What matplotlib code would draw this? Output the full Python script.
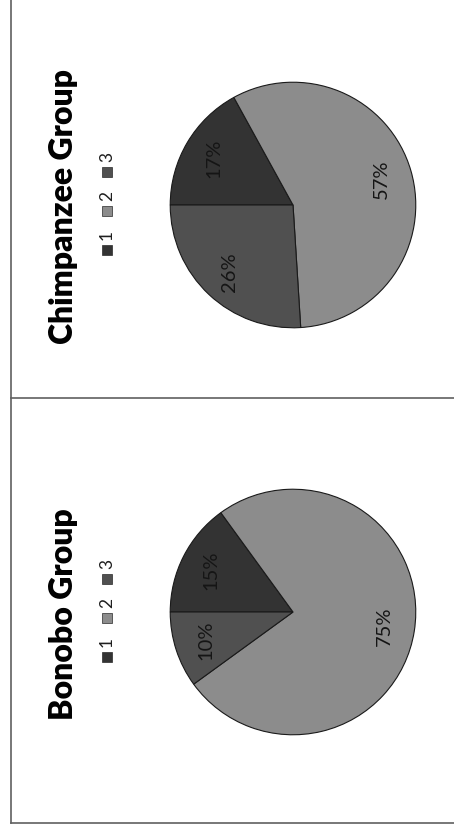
import matplotlib
matplotlib.use("Agg")
import matplotlib.pyplot as plt
from matplotlib.patches import Rectangle
from matplotlib.lines import Line2D

# Share of time per category for each group
categories = ["1", "2", "3"]
chimp_values = [17, 57, 26]
bonobo_values = [15, 75, 10]
titles = ["Chimpanzee Group", "Bonobo Group"]
slice_colors = ["#333333", "#8c8c8c", "#505050"]

W, H = 454, 832
DPI = 100
plt.rcParams["font.family"] = ["Lato", "DejaVu Sans"]

fig = plt.figure(figsize=(W / DPI, H / DPI), dpi=DPI)
fig.patch.set_facecolor("white")


def fx(x):
    return x / W


def fy(y):
    return 1 - y / H


# panel frame lines (page is turned a quarter turn, so charts read bottom-to-top)
frame_color = "#606060"
for (x0, y0, x1, y1) in [(11, 0, 11, 823), (11, 398, W, 398), (11, 823, W, 823)]:
    fig.add_artist(Line2D([fx(x0), fx(x1)], [fy(y0), fy(y1)], color=frame_color,
                          lw=1.2, transform=fig.transFigure))


def draw_panel(values, title, cy, r=124, cx=293):
    ax = fig.add_axes([fx(cx - r), fy(cy + r), 2 * r / W, 2 * r / H])
    ax.pie(values, colors=slice_colors, startangle=180, counterclock=False,
           autopct="%1.0f%%", pctdistance=0.75,
           wedgeprops=dict(edgecolor="#1a1a1a", linewidth=0.8),
           textprops=dict(rotation=90, fontsize=14.5, color="#151515",
                          ha="center", va="center"))
    ax.set_xlim(-1.01, 1.01)
    ax.set_ylim(-1.01, 1.01)
    ax.axis("off")

    # title, turned to read upward
    fig.text(fx(64), fy(cy + 2), title, rotation=90, ha="center", va="center",
             fontsize=23, fontweight="heavy", color="black")

    # legend entries stacked upward
    sq = 10
    step = 39
    start = cy + 45
    for i, (lab, col) in enumerate(zip(categories, slice_colors)):
        ys = start - i * step
        fig.add_artist(Rectangle((fx(102), fy(ys + sq / 2)), sq / W, sq / H,
                                 facecolor=col, edgecolor="#2a2a2a", lw=0.5,
                                 transform=fig.transFigure))
        fig.text(fx(107), fy(ys - sq / 2 - 10), lab, rotation=90, ha="center",
                 va="center", fontsize=12.5, color="#1e1e1e")


draw_panel(chimp_values, titles[0], cy=205)
draw_panel(bonobo_values, titles[1], cy=612)

fig.savefig("out.png", dpi=DPI, facecolor="white")
